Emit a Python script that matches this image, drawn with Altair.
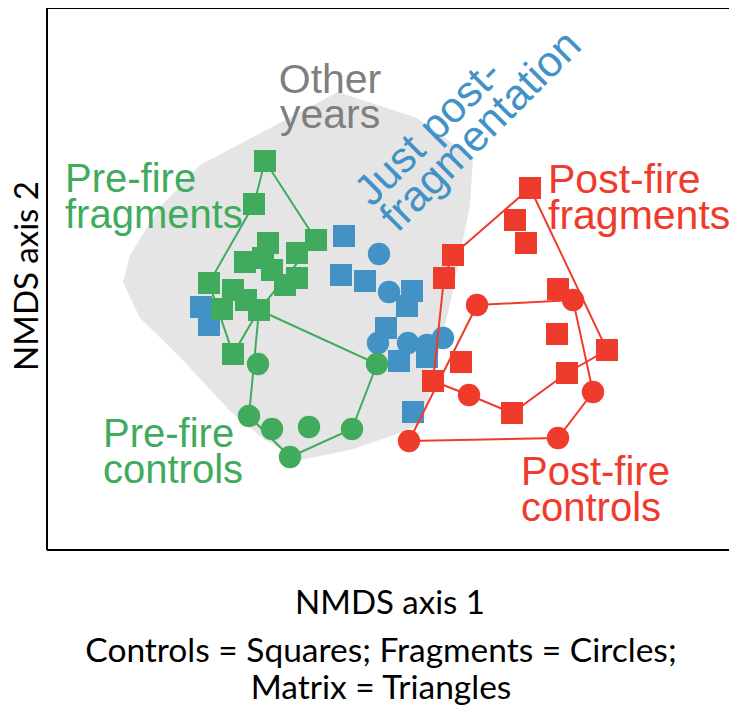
import altair as alt
import pandas as pd

# ---------------- data (NMDS scores in figure units; axis 2 grows downward) -------------
# green squares / circles
green_sq_x = [265, 254, 316, 268, 245, 263, 297, 272, 297, 285, 209, 233, 246, 222, 259, 233]
green_sq_y = [161, 204, 240, 243, 262, 258, 253, 270, 278, 285, 283, 290, 300, 309, 310, 354]
green_ci_x = [258, 377, 249, 272, 309, 352, 290]
green_ci_y = [364, 364, 416, 429, 427, 429, 457]
# blue squares / circles (just post-fragmentation)
blue_sq_x = [344, 341, 365, 412, 407, 386, 399, 427, 413, 201, 209]
blue_sq_y = [236, 275, 281, 291, 306, 328, 361, 357, 412, 307, 325]
blue_ci_x = [379, 389, 378, 408, 427, 443]
blue_ci_y = [254, 292, 343, 343, 345, 338]
# red squares / circles
red_sq_x = [530, 515, 526, 453, 444, 558, 557, 607, 461, 567, 433, 512]
red_sq_y = [188, 220, 243, 255, 278, 289, 334, 350, 362, 373, 381, 413]
red_ci_x = [477, 573, 469, 593, 558, 409]
red_ci_y = [305, 300, 395, 392, 438, 441]

# group outlines (vertex order)
green_sq_hull_x = [265, 316, 259, 233, 209, 254, 265]
green_sq_hull_y = [161, 240, 310, 354, 283, 204, 161]
green_ci_hull_x = [259, 377, 352, 290, 249, 259]
green_ci_hull_y = [310, 364, 429, 457, 416, 310]
red_sq_hull_x = [530, 607, 567, 512, 469, 433, 444, 453, 530]
red_sq_hull_y = [188, 350, 373, 413, 395, 381, 278, 255, 188]
red_ci_hull_x = [477, 573, 593, 558, 409, 477]
red_ci_hull_y = [305, 300, 392, 438, 441, 305]

# "other years" envelope
other_x = [338, 417, 473, 470, 452, 436, 423, 400, 350, 300, 265, 230, 180, 140, 123, 130, 160, 200]
other_y = [92, 118, 158, 205, 295, 365, 423, 433, 450, 460, 440, 411, 357, 318, 282, 255, 207, 165]

X_DOMAIN = [47, 729]
Y_DOMAIN = [8, 550]

GREEN = "#41AB5D"
BLUE = "#4292C6"
RED = "#EF3B2C"
GREY_FILL = "#E5E5E5"
GREY_TEXT = "#7F7F7F"
LABEL_FONT = "Liberation Sans"
AXIS_FONT = "Lato"


def frame(xs, ys):
    d = pd.DataFrame({"x": xs, "y": ys})
    d["i"] = range(len(d))
    return d


X = alt.X("x:Q", scale=alt.Scale(domain=X_DOMAIN, nice=False, zero=False), axis=None)
Y = alt.Y("y:Q", scale=alt.Scale(domain=Y_DOMAIN, nice=False, zero=False, reverse=True), axis=None)


def path(xs, ys, color):
    return alt.Chart(frame(xs, ys)).mark_line(color=color, strokeWidth=2).encode(X, Y, order="i:Q")


def pts(xs, ys, color, shape, size):
    return alt.Chart(frame(xs, ys)).mark_point(
        shape=shape, filled=True, size=size, color=color, opacity=1, strokeWidth=0
    ).encode(X, Y)


def label(x, y, text, color, font=LABEL_FONT, size=40, line=36, baseline="alphabetic", **kw):
    d = pd.DataFrame({"x": [x], "y": [y], "t": [text]})
    return alt.Chart(d).mark_text(
        color=color, font=font, fontSize=size, lineHeight=line, lineBreak="\n",
        baseline=baseline, **kw
    ).encode(X, Y, text="t:N")


hull = alt.Chart(frame(other_x, other_y)).mark_line(
    fill=GREY_FILL, stroke=GREY_FILL, strokeWidth=0, interpolate="linear-closed"
).encode(X, Y, order="i:Q")

box = pd.DataFrame({"x": [47, 47, 47], "y": [8, 550, 8], "x2": [729, 729, 47], "y2": [8, 550, 550]})
frame_rules = alt.Chart(box).mark_rule(color="black", strokeWidth=2).encode(X, Y, x2="x2:Q", y2="y2:Q")

SQ = 484
CI = 500

layers = [
    hull,
    label(330, 93, "Other\nyears", GREY_TEXT, size=41, line=35, align="center"),
    label(372, 208, "Just post-\nfragmentation", BLUE, size=43, line=36, align="left", angle=315),
    label(65, 192, "Pre-fire\nfragments", GREEN, align="left"),
    label(103, 447, "Pre-fire\ncontrols", GREEN, align="left"),
    label(548, 193, "Post-fire\nfragments", RED, size=41, align="left"),
    label(521, 485, "Post-fire\ncontrols", RED, align="left"),
    pts(blue_sq_x, blue_sq_y, BLUE, "square", SQ),
    pts(blue_ci_x, blue_ci_y, BLUE, "circle", CI),
    path(green_sq_hull_x, green_sq_hull_y, GREEN),
    path(green_ci_hull_x, green_ci_hull_y, GREEN),
    pts(green_sq_x, green_sq_y, GREEN, "square", SQ),
    pts(green_ci_x, green_ci_y, GREEN, "circle", CI),
    path(red_sq_hull_x, red_sq_hull_y, RED),
    path(red_ci_hull_x, red_ci_hull_y, RED),
    pts(red_sq_x, red_sq_y, RED, "square", SQ),
    pts(red_ci_x, red_ci_y, RED, "circle", CI),
    frame_rules,
    label(390, 614, "NMDS axis 1", "black", font=AXIS_FONT, size=33, align="center"),
    label(28, 276, "NMDS axis 2", "black", font=AXIS_FONT, size=33, align="center",
          angle=270, baseline="middle"),
    label(381, 662, "Controls = Squares; Fragments = Circles;", "black", font=AXIS_FONT, size=33.5, align="center"),
    label(381, 699, "Matrix = Triangles", "black", font=AXIS_FONT, size=33.5, align="center"),
]

chart = alt.layer(*layers).properties(
    width=682,
    height=542,
    autosize=alt.AutoSizeParams(type="none"),
    padding={"left": 39, "top": 0, "right": 0, "bottom": 158},
).configure_view(stroke=None)

chart.save("out.html", embed_options={"renderer": "svg", "actions": False})
